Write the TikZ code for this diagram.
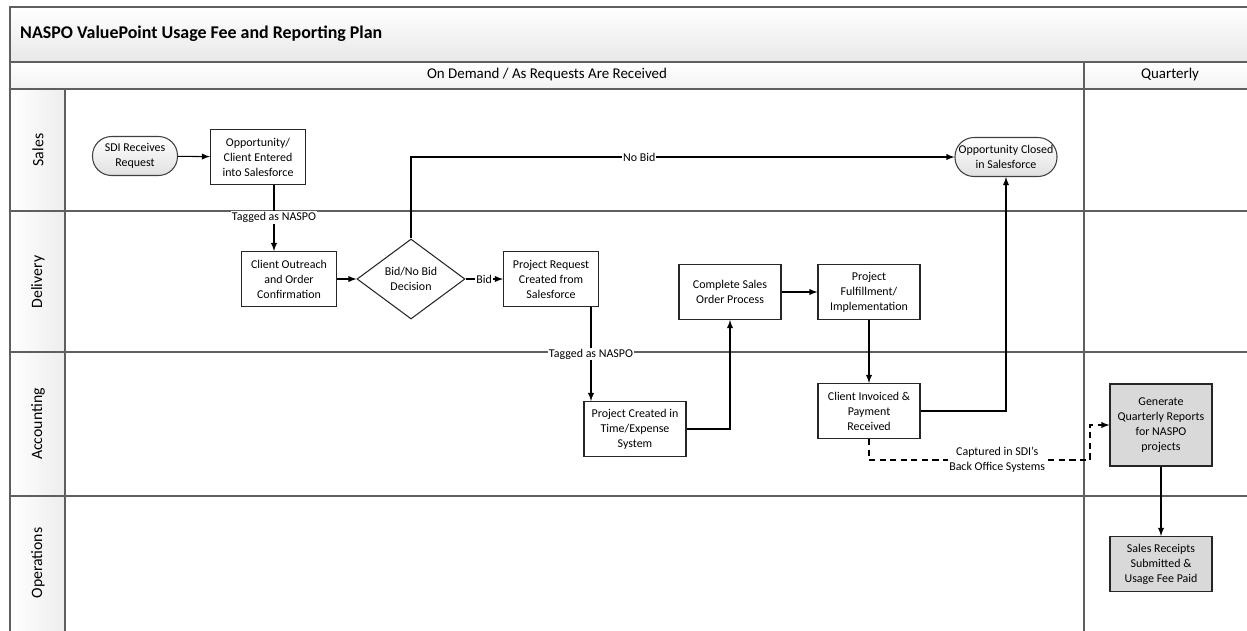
\documentclass[tikz,border=0pt]{standalone}
\usepackage{fontspec}
\setmainfont{Carlito}
\usetikzlibrary{shapes,arrows,positioning,calc}
\definecolor{laneline}{RGB}{95,95,95}
\definecolor{reportgray}{RGB}{217,217,217}

\tikzset{
    lane/.style={draw=laneline, line width=0.8pt},
    lanetitle/.style={rotate=90, font=\fontsize{9}{10}\selectfont},
    stepbox/.style={rectangle, draw=black!85, line width=0.6pt, fill=white, align=center, minimum width=1.9cm, minimum height=1.1cm, inner sep=1pt},
    reportbox/.style={stepbox, fill=reportgray, minimum width=2.04cm},
    terminal/.style={rectangle, rounded corners=0.38cm, draw=black!75, line width=0.6pt, top color=white, bottom color=black!12, align=center, minimum width=1.7cm, minimum height=0.78cm, inner sep=1pt},
    decision/.style={diamond, draw=black!85, line width=0.6pt, fill=white, align=center, minimum width=2.16cm, minimum height=1.6cm, inner sep=0pt},
    flow/.style={->, >=latex, line width=0.6pt},
    tag/.style={fill=white, inner sep=0.6pt}
}

\begin{document}
\begin{tikzpicture}[x=0.02cm, y=-0.02cm, font=\fontsize{6.8}{8.5}\selectfont]
    \useasboundingbox (0,0) rectangle (1247,630);
    % pool and lanes
    \shade[top color=white, bottom color=black!9] (10,7) rectangle (1260,62);
    \shade[top color=white, bottom color=black!5] (10,62) rectangle (1260,89);
    \shade[left color=white, right color=black!7] (10,89) rectangle (65,640);
    \draw[lane] (10,640) -- (10,7) -- (1260,7);
    \foreach \y in {62,89,211,352,496}
        \draw[lane] (10,\y) -- (1260,\y);
    \draw[lane] (65,89) -- (65,640);
    \draw[lane] (1084,62) -- (1084,640);
    \node[anchor=west, font=\fontsize{10.2}{12}\bfseries] (title) at (14,34) {NASPO ValuePoint Usage Fee and Reporting Plan};
    \node[font=\fontsize{8.5}{10}\selectfont] (ondemand) at (547,75) {On Demand / As Requests Are Received};
    \node[font=\fontsize{8.5}{10}\selectfont] (quarterly) at (1170,75) {Quarterly};
    \node[lanetitle] (sales) at (38,150) {Sales};
    \node[lanetitle] (delivery) at (38,282) {Delivery};
    \node[lanetitle] (accounting) at (38,424) {Accounting};
    \node[lanetitle] (operations) at (38,563) {Operations};

    % steps
    \node[terminal] (sdi) at (135,156) {SDI Receives\\Request};
    \node[stepbox] (opp) at (258,157) {Opportunity/\\Client Entered\\into Salesforce};
    \node[stepbox] (outreach) at (289,279) {Client Outreach\\and Order\\Confirmation};
    \node[decision] (bid) at (411,279) {Bid/No Bid\\Decision};
    \node[stepbox] (request) at (551,279) {Project Request\\Created from\\Salesforce};
    \node[stepbox, minimum width=2.04cm] (timesys) at (635,429) {Project Created in\\Time/Expense\\System};
    \node[stepbox, minimum width=2.04cm] (salesorder) at (730,292) {Complete Sales\\Order Process};
    \node[stepbox, minimum width=2.04cm] (fulfil) at (869,292) {Project\\Fulfillment/\\Implementation};
    \node[stepbox, minimum width=2.04cm] (invoiced) at (869,411) {Client Invoiced \&\\Payment\\Received};
    \node[terminal, minimum width=2.04cm] (closed) at (1006,157) {Opportunity Closed\\in Salesforce};
    \node[reportbox, minimum height=1.64cm] (reports) at (1161,425) {Generate\\Quarterly Reports\\for NASPO\\projects};
    \node[reportbox] (receipts) at (1161,564) {Sales Receipts\\Submitted \&\\Usage Fee Paid};

    % connectors
    \coordinate (tagA) at (274,0);
    \coordinate (tagB) at (591,0);
    \coordinate (backoffice) at (1090,460);
    \draw[flow] (sdi) -- (opp);
    \draw[flow] (opp.south -| tagA) -- (outreach.north -| tagA) node[tag, pos=0.49] {Tagged as NASPO};
    \draw[flow] (outreach) -- (bid);
    \draw[flow] (bid.north) |- (closed.west) node[tag, pos=0.71] {No Bid};
    \draw[flow] (bid) -- (request) node[tag, midway] {Bid};
    \draw[flow] (request.south -| tagB) -- (timesys.north -| tagB) node[tag, pos=0.5] {Tagged as NASPO};
    \draw[flow] (timesys.east) -| (salesorder.south);
    \draw[flow] (salesorder) -- (fulfil);
    \draw[flow] (fulfil) -- (invoiced);
    \draw[flow] (invoiced.east) -| (closed.south);
    \draw[flow, dash pattern=on 3.5pt off 2.5pt] (invoiced.south) |- (backoffice) node[tag, align=center, pos=0.79] {Captured in SDI's\\Back Office Systems} |- (reports.west);
    \draw[flow] (reports) -- (receipts);
\end{tikzpicture}
\end{document}
